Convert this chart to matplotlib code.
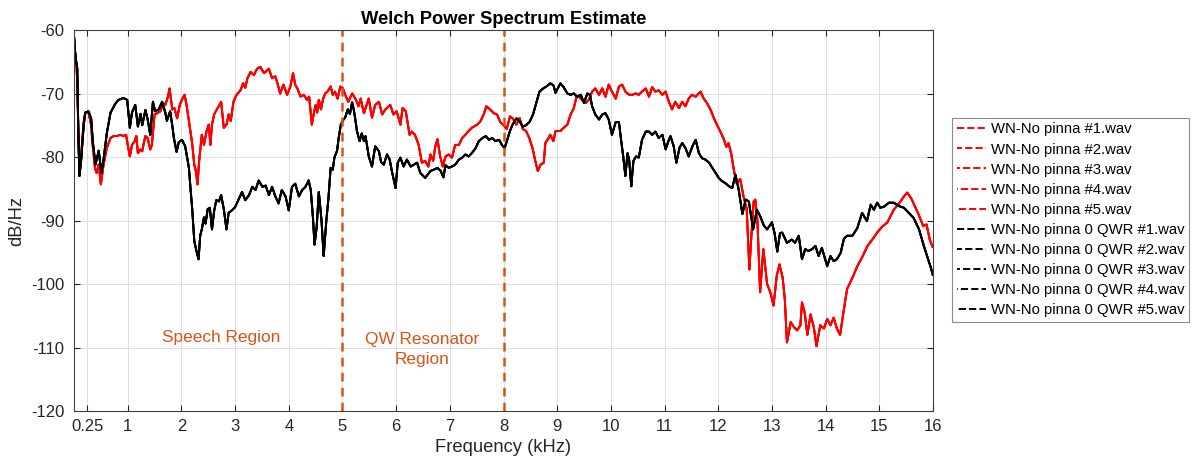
import matplotlib
matplotlib.use('Agg')
import matplotlib.pyplot as plt

plt.rcParams['font.family'] = ['Liberation Sans', 'DejaVu Sans']
plt.rcParams['axes.unicode_minus'] = False

# WN - no pinna (red), kHz / dB/Hz
red_f = [0.00, 0.02, 0.04, 0.06, 0.08, 0.10, 0.13, 0.18, 0.21, 0.27, 0.32, 0.34, 0.39, 0.42, 0.46,
         0.50, 0.55, 0.61, 0.68, 0.74, 0.80, 0.86, 0.92, 0.97, 1.00, 1.04, 1.08, 1.13, 1.16, 1.19,
         1.24, 1.27, 1.30, 1.33, 1.37, 1.42, 1.45, 1.50, 1.55, 1.61, 1.66, 1.70, 1.75, 1.78, 1.83,
         1.87, 1.92, 1.97, 2.01, 2.06, 2.10, 2.15, 2.20, 2.24, 2.27, 2.30, 2.33, 2.38, 2.42, 2.47,
         2.51, 2.54, 2.57, 2.61, 2.66, 2.71, 2.74, 2.79, 2.84, 2.88, 2.92, 2.97, 3.03, 3.10, 3.15,
         3.19, 3.23, 3.29, 3.35, 3.41, 3.47, 3.54, 3.63, 3.69, 3.75, 3.79, 3.84, 3.90, 3.97, 4.03,
         4.08, 4.12, 4.16, 4.22, 4.28, 4.34, 4.38, 4.43, 4.47, 4.50, 4.53, 4.56, 4.60, 4.64, 4.68,
         4.72, 4.78, 4.82, 4.86, 4.91, 4.96, 5.01, 5.05, 5.11, 5.18, 5.24, 5.30, 5.34, 5.40, 5.45,
         5.49, 5.55, 5.61, 5.68, 5.74, 5.80, 5.89, 5.95, 6.01, 6.08, 6.12, 6.18, 6.25, 6.29, 6.35,
         6.42, 6.48, 6.54, 6.60, 6.64, 6.69, 6.73, 6.77, 6.82, 6.87, 6.92, 6.98, 7.04, 7.10, 7.17,
         7.23, 7.29, 7.35, 7.41, 7.51, 7.57, 7.63, 7.68, 7.76, 7.82, 7.88, 7.94, 8.00, 8.06, 8.12,
         8.17, 8.24, 8.30, 8.36, 8.42, 8.48, 8.54, 8.60, 8.64, 8.69, 8.75, 8.78, 8.84, 8.87, 8.93,
         8.97, 9.06, 9.12, 9.19, 9.25, 9.31, 9.36, 9.40, 9.46, 9.53, 9.59, 9.65, 9.71, 9.78, 9.84,
         9.90, 9.96, 10.02, 10.09, 10.15, 10.21, 10.27, 10.34, 10.40, 10.46, 10.52, 10.58, 10.65,
         10.71, 10.77, 10.83, 10.89, 10.96, 11.02, 11.08, 11.14, 11.20, 11.27, 11.33, 11.39, 11.45,
         11.51, 11.58, 11.67, 11.73, 11.79, 11.86, 11.92, 11.98, 12.04, 12.10, 12.15, 12.19, 12.24,
         12.29, 12.34, 12.41, 12.47, 12.53, 12.58, 12.62, 12.66, 12.69, 12.73, 12.78, 12.84, 12.91,
         12.97, 13.03, 13.09, 13.14, 13.20, 13.24, 13.28, 13.35, 13.41, 13.47, 13.53, 13.56, 13.61,
         13.66, 13.72, 13.78, 13.83, 13.90, 13.97, 14.03, 14.09, 14.15, 14.21, 14.27, 14.34, 14.40,
         14.50, 14.59, 14.68, 14.78, 14.87, 14.96, 15.05, 15.15, 15.27, 15.37, 15.46, 15.52, 15.60,
         15.72, 15.82, 15.88, 15.94, 16.00]
red_db = [-61.0, -63.5, -65.0, -68.0, -76.0, -82.0, -80.0, -74.5, -73.0, -73.0, -75.0, -77.5, -81.7, -82.5, -81.2,
          -84.3, -81.2, -78.6, -77.0, -76.7, -76.7, -76.5, -76.7, -76.5, -78.1, -79.9, -78.1, -77.5, -76.7, -79.4,
          -78.8, -79.1, -77.8, -76.7, -77.0, -78.8, -78.1, -73.3, -73.1, -72.8, -71.5, -71.8, -70.5, -69.2, -72.5,
          -72.3, -73.9, -71.8, -71.0, -70.2, -72.0, -74.9, -77.8, -81.2, -82.2, -84.3, -80.7, -76.5, -78.1, -75.9,
          -74.9, -78.1, -74.9, -73.3, -72.5, -71.8, -71.3, -75.4, -74.9, -73.3, -74.3, -71.3, -70.2, -69.5, -68.4,
          -69.1, -67.6, -66.6, -67.1, -66.1, -65.8, -66.8, -66.1, -67.6, -67.3, -68.4, -70.0, -68.6, -70.2, -68.9,
          -66.8, -68.6, -69.2, -70.5, -70.2, -71.0, -70.5, -74.9, -73.0, -71.8, -73.0, -71.0, -72.5, -70.8, -70.0,
          -69.7, -68.9, -70.2, -69.7, -70.8, -68.9, -69.2, -70.2, -71.3, -70.0, -70.8, -72.0, -70.8, -73.1, -71.8,
          -70.8, -73.8, -71.8, -71.3, -73.3, -72.5, -71.8, -73.3, -72.8, -74.9, -72.3, -72.8, -76.5, -76.0, -76.5,
          -78.1, -80.9, -80.6, -81.5, -79.6, -80.6, -78.3, -77.2, -79.9, -81.5, -79.9, -79.6, -80.1, -78.1, -78.1,
          -77.0, -76.5, -75.9, -75.4, -74.9, -74.4, -73.3, -72.0, -72.6, -73.1, -73.3, -74.5, -75.0, -75.6, -73.6,
          -73.9, -74.9, -73.9, -75.6, -75.9, -77.0, -78.6, -80.9, -82.2, -81.2, -80.9, -77.8, -77.0, -76.5, -77.5,
          -75.9, -75.9, -75.4, -74.9, -73.3, -72.3, -70.5, -70.5, -71.0, -71.5, -71.0, -69.7, -69.2, -70.2, -69.2,
          -70.5, -68.6, -69.7, -70.8, -68.9, -68.6, -69.7, -70.2, -70.2, -70.0, -70.2, -69.7, -69.2,
          -70.5, -69.0, -69.7, -69.5, -70.2, -69.7, -71.3, -72.5, -71.3, -72.3, -71.3, -72.0, -70.8,
          -70.2, -70.5, -69.7, -70.8, -71.5, -72.6, -73.9, -75.0, -76.0, -77.1, -78.4, -77.8, -79.4,
          -82.0, -84.1, -83.5, -86.2, -88.2, -97.7, -92.0, -87.0, -86.7, -90.0, -101.3, -94.5, -100.0,
          -101.3, -103.4, -98.7, -96.9, -99.0, -102.4, -109.2, -106.0, -106.8, -107.3, -106.5, -102.9, -104.5,
          -108.0, -104.8, -106.8, -109.8, -106.5, -107.0, -105.5, -106.5, -105.3, -107.0, -108.0, -104.0, -100.8,
          -99.0, -97.2, -95.8, -94.0, -93.0, -91.9, -91.0, -90.3, -88.3, -87.3, -86.2, -85.6, -86.6,
          -88.8, -90.9, -90.6, -93.0, -94.3]

# WN - no pinna 0 QWR (black)
black_f = [0.00, 0.02, 0.04, 0.06, 0.08, 0.10, 0.13, 0.18, 0.21, 0.27, 0.32, 0.35, 0.40, 0.46, 0.51,
           0.55, 0.61, 0.68, 0.77, 0.83, 0.92, 0.99, 1.04, 1.08, 1.14, 1.19, 1.24, 1.27, 1.33, 1.37,
           1.42, 1.47, 1.51, 1.58, 1.64, 1.70, 1.73, 1.79, 1.83, 1.86, 1.91, 1.95, 2.01, 2.07, 2.14,
           2.17, 2.20, 2.24, 2.28, 2.32, 2.35, 2.38, 2.42, 2.45, 2.49, 2.53, 2.57, 2.61, 2.65, 2.70,
           2.74, 2.79, 2.84, 2.88, 2.94, 3.00, 3.06, 3.13, 3.19, 3.26, 3.32, 3.38, 3.44, 3.51, 3.57,
           3.63, 3.69, 3.75, 3.81, 3.87, 3.94, 4.00, 4.06, 4.12, 4.19, 4.25, 4.31, 4.37, 4.41, 4.45,
           4.48, 4.52, 4.56, 4.61, 4.65, 4.70, 4.74, 4.78, 4.82, 4.85, 4.90, 4.93, 4.97, 5.02, 5.05,
           5.10, 5.14, 5.18, 5.21, 5.24, 5.27, 5.32, 5.36, 5.40, 5.43, 5.49, 5.55, 5.61, 5.68, 5.72,
           5.77, 5.83, 5.88, 5.92, 5.99, 6.03, 6.08, 6.14, 6.20, 6.27, 6.33, 6.39, 6.45, 6.54, 6.64,
           6.70, 6.77, 6.83, 6.88, 6.92, 6.98, 7.04, 7.10, 7.17, 7.23, 7.29, 7.35, 7.41, 7.48, 7.54,
           7.61, 7.67, 7.73, 7.79, 7.85, 7.92, 7.97, 8.02, 8.07, 8.12, 8.17, 8.24, 8.30, 8.36, 8.42,
           8.49, 8.55, 8.61, 8.67, 8.74, 8.80, 8.87, 8.93, 8.97, 9.01, 9.06, 9.12, 9.19, 9.25, 9.31,
           9.37, 9.44, 9.50, 9.56, 9.61, 9.65, 9.71, 9.78, 9.84, 9.90, 9.96, 10.02, 10.09, 10.15,
           10.19, 10.23, 10.27, 10.31, 10.34, 10.38, 10.42, 10.47, 10.52, 10.58, 10.65, 10.71, 10.77,
           10.83, 10.89, 10.96, 11.02, 11.08, 11.11, 11.17, 11.22, 11.28, 11.33, 11.39, 11.45, 11.52,
           11.58, 11.64, 11.70, 11.76, 11.83, 11.89, 11.95, 12.01, 12.07, 12.13, 12.20, 12.26, 12.32,
           12.38, 12.45, 12.51, 12.57, 12.65, 12.72, 12.78, 12.85, 12.91, 13.00, 13.05, 13.10, 13.15,
           13.19, 13.28, 13.37, 13.43, 13.50, 13.56, 13.62, 13.68, 13.75, 13.81, 13.87, 13.93, 14.03,
           14.09, 14.15, 14.21, 14.28, 14.34, 14.40, 14.50, 14.59, 14.68, 14.77, 14.84, 14.90, 14.96,
           15.02, 15.09, 15.18, 15.27, 15.36, 15.46, 15.55, 15.64, 15.74, 15.83, 15.89, 15.96, 16.00]
black_db = [-61.0, -63.5, -65.0, -66.0, -76.0, -83.0, -80.8, -75.0, -73.0, -72.8, -74.0, -77.6, -81.2, -79.0, -82.5,
            -80.4, -76.3, -73.0, -71.6, -71.0, -70.7, -71.0, -75.4, -73.0, -71.8, -75.2, -73.2, -75.0, -72.6, -74.0,
            -76.5, -71.3, -72.8, -72.5, -71.3, -73.0, -74.3, -72.8, -75.0, -77.0, -79.2, -77.7, -77.3, -78.3, -81.7,
            -85.0, -88.0, -93.2, -94.8, -96.1, -92.4, -91.4, -89.5, -90.5, -88.2, -88.0, -91.4, -88.5, -86.8, -87.0,
            -86.0, -88.2, -91.4, -88.8, -88.4, -87.9, -86.8, -85.5, -86.8, -86.0, -84.7, -85.2, -83.7, -84.7, -84.5,
            -86.0, -84.7, -86.2, -87.3, -85.2, -86.2, -88.4, -84.7, -84.2, -86.2, -85.2, -84.7, -83.7, -85.2, -89.5,
            -93.8, -91.0, -85.5, -90.0, -95.6, -90.0, -86.4, -81.7, -82.0, -80.1, -79.0, -77.0, -74.9, -74.1, -73.8,
            -72.5, -73.2, -71.4, -72.5, -74.1, -75.9, -77.5, -76.3, -77.5, -76.7, -79.9, -81.5, -78.3, -79.1, -80.8,
            -81.2, -79.6, -80.4, -82.2, -84.9, -80.9, -80.1, -81.5, -80.4, -81.5, -81.2, -80.9, -82.5, -83.3, -82.2,
            -82.0, -81.7, -82.2, -83.2, -81.3, -81.7, -81.5, -81.2, -80.4, -80.1, -79.6, -79.9, -79.4, -78.6, -77.5,
            -77.0, -76.7, -77.3, -77.0, -77.5, -77.3, -78.1, -78.6, -77.3, -75.9, -74.9, -73.9, -74.4, -75.2, -75.0,
            -74.4, -73.3, -71.5, -69.7, -69.2, -68.9, -68.4, -68.7, -69.9, -69.2, -68.4, -69.0, -70.0, -70.2, -70.0,
            -70.5, -70.2, -71.5, -70.0, -70.2, -72.0, -73.3, -74.1, -73.3, -73.1, -74.1, -76.5, -74.5, -74.5,
            -77.3, -79.9, -83.0, -79.4, -80.4, -84.6, -80.6, -79.9, -80.1, -77.3, -76.0, -76.0, -76.5,
            -76.0, -77.0, -76.5, -78.8, -77.3, -76.7, -78.3, -80.9, -78.5, -77.8, -78.6, -79.9, -78.3,
            -77.3, -79.4, -80.2, -80.4, -80.9, -81.7, -82.5, -83.3, -83.8, -84.1, -84.6, -84.9, -82.8,
            -85.1, -89.0, -86.7, -87.0, -91.4, -88.3, -89.3, -90.8, -91.4, -90.3, -92.0, -94.9, -92.0,
            -91.9, -93.5, -93.0, -93.5, -92.4, -96.1, -94.5, -94.8, -94.5, -94.0, -95.6, -94.3, -97.2,
            -95.6, -96.4, -96.1, -95.1, -92.9, -92.4, -92.4, -91.2, -88.8, -90.1, -87.5, -88.3, -87.2,
            -88.0, -87.8, -87.2, -87.2, -87.7, -88.0, -88.8, -89.6, -91.4, -94.0, -95.6, -97.4, -98.7]

red_labels = ['WN-No pinna #1.wav', 'WN-No pinna #2.wav', 'WN-No pinna #3.wav',
              'WN-No pinna #4.wav', 'WN-No pinna #5.wav']
black_labels = ['WN-No pinna 0 QWR #1.wav', 'WN-No pinna 0 QWR #2.wav', 'WN-No pinna 0 QWR #3.wav',
                'WN-No pinna 0 QWR #4.wav', 'WN-No pinna 0 QWR #5.wav']

x_ticks = [0.25, 1, 2, 3, 4, 5, 6, 7, 8, 9, 10, 11, 12, 13, 14, 15, 16]
x_tick_labels = ['0.25', '1', '2', '3', '4', '5', '6', '7', '8', '9', '10', '11', '12', '13', '14', '15', '16']
y_ticks = [-120, -110, -100, -90, -80, -70, -60]
region_bounds = [5, 8]

orange = '#D95319'

fig = plt.figure(figsize=(11.92, 4.66), dpi=100)
ax = fig.add_axes([0.0621, 0.118, 0.7206, 0.8176])

# the 5 runs lie on top of each other, shift the dash phase so it reads as one line
for i, lab in enumerate(red_labels):
    ax.plot(red_f, red_db, color='#ff0000', lw=1.4, ls=(i * 1.1, (3.7, 1.6)), label=lab)
for i, lab in enumerate(black_labels):
    ax.plot(black_f, black_db, color='black', lw=1.4, ls=(i * 1.1, (3.7, 1.6)), label=lab)

for xb in region_bounds:
    ax.axvline(xb, color=orange, lw=1.8, ls=(0, (3.5, 2.5)))

ax.text(2.735, -108.4, 'Speech Region', ha='center', va='center', color=orange, fontsize=12.4)
ax.text(6.48, -110.3, 'QW Resonator\nRegion', ha='center', va='center', multialignment='center',
        color=orange, fontsize=12.4, linespacing=1.4)

ax.set_xlim(0, 16)
ax.set_ylim(-120, -60)
ax.set_xticks(x_ticks)
ax.set_xticklabels(x_tick_labels)
ax.set_yticks(y_ticks)
ax.grid(True, color='#dedede', lw=0.7)
ax.tick_params(direction='in', top=True, right=True, length=4, width=0.8,
               labelsize=12, colors='#262626')
ax.tick_params(axis='x', pad=6)
ax.tick_params(axis='y', pad=7)
for s in ax.spines.values():
    s.set_color('#404040')
    s.set_linewidth(0.8)

ax.set_title('Welch Power Spectrum Estimate', fontweight='bold', fontsize=13.2, pad=4)
ax.set_xlabel('Frequency (kHz)', fontsize=13.2, color='#262626', labelpad=3)
ax.set_ylabel('dB/Hz', fontsize=13.2, color='#262626', labelpad=4)

leg = ax.legend(loc='upper left', bbox_to_anchor=(0.7987, 0.7468), bbox_transform=fig.transFigure,
                fontsize=10.7, frameon=True, fancybox=False, framealpha=1, borderaxespad=0,
                labelspacing=0.41, handlelength=2.0, handletextpad=0.3, borderpad=0.3)
leg.get_frame().set_edgecolor('#8c8c8c')
leg.get_frame().set_linewidth(0.8)

fig.savefig('out.png', dpi=100)
